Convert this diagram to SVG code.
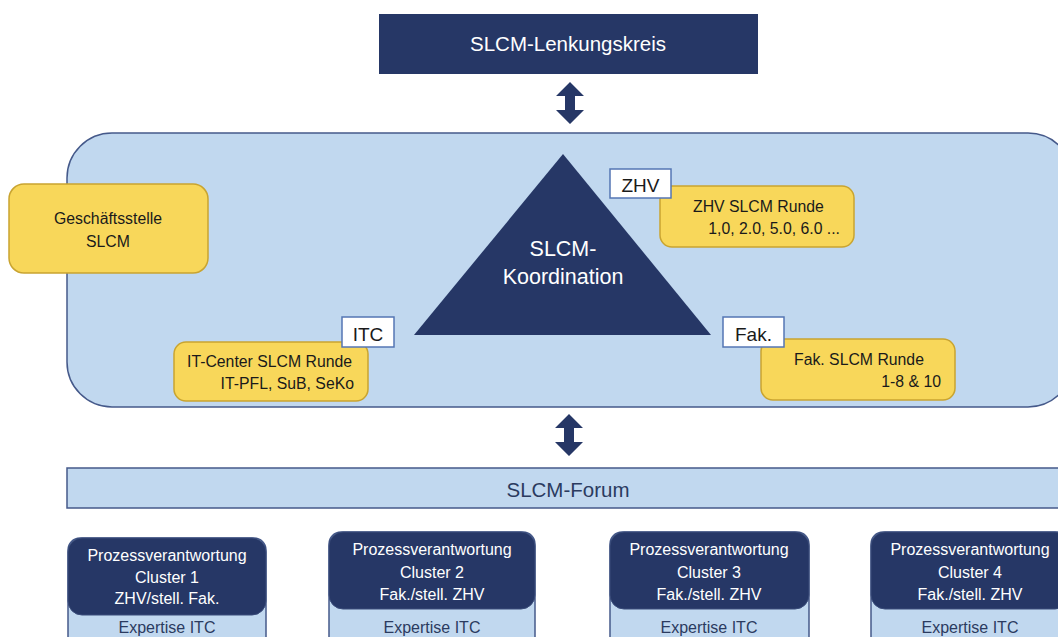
<svg xmlns="http://www.w3.org/2000/svg" width="1058" height="637" viewBox="0 0 1058 637">
  <style>
    text { font-family: "Liberation Sans", Arial, sans-serif; }
    .navy { fill: #263766; }
    .panel { fill: #c1d8ef; stroke: #45598a; stroke-width: 1.5; }
    .yellow { fill: #f8d75a; stroke: #c9a430; stroke-width: 1.5; }
    .tag { fill: #ffffff; stroke: #5476b4; stroke-width: 1.5; }
    .wt { fill: #ffffff; }
    .bk { fill: #1a1a1a; }
    .arrow { fill: #263766; }
    .dark { fill: #263766; stroke: #3a4c7a; stroke-width: 1; }
    .note { font-size: 15.8px; }
    .cl { font-size: 16px; text-anchor: middle; }
    .big { font-size: 20.5px; text-anchor: middle; }
    .tagt { font-size: 19px; text-anchor: middle; fill: #1a1a1a; }
    .exp { fill: #2b3b5f; }
  </style>

  <!-- steering committee -->
  <g id="lenkungskreis">
    <rect x="379" y="14" width="379" height="60" class="navy"/>
    <text x="568" y="51" class="big wt">SLCM-Lenkungskreis</text>
  </g>

  <!-- coordination panel -->
  <g id="koordination-panel">
    <rect x="67" y="133" width="1006" height="274" rx="45" ry="45" class="panel"/>
  </g>

  <g id="geschaeftsstelle">
    <rect x="9" y="184" width="199" height="89" rx="15" ry="15" class="yellow"/>
    <text x="108" y="224" text-anchor="middle" class="note bk">Geschäftsstelle</text>
    <text x="108" y="247" text-anchor="middle" class="note bk">SLCM</text>
  </g>

  <g id="slcm-koordination">
    <polygon points="563,154 711,335 414,335" class="navy"/>
    <text x="563" y="256" class="big wt" style="font-size:21.5px">SLCM-</text>
    <text x="563" y="284" class="big wt" style="font-size:21.5px">Koordination</text>
  </g>

  <g id="zhv-runde">
    <rect x="660" y="186" width="194" height="61" rx="12" ry="12" class="yellow"/>
    <text x="693" y="212" class="note bk">ZHV SLCM Runde</text>
    <text x="840" y="234" text-anchor="end" class="note bk">1,0, 2.0, 5.0, 6.0 ...</text>
  </g>
  <g id="zhv-tag">
    <rect x="610" y="169" width="61" height="29" class="tag"/>
    <text x="640.5" y="191.5" class="tagt">ZHV</text>
  </g>

  <g id="itc-runde">
    <rect x="174" y="342" width="194" height="59" rx="12" ry="12" class="yellow"/>
    <text x="187" y="367" class="note bk">IT-Center SLCM Runde</text>
    <text x="354" y="389" text-anchor="end" class="note bk">IT-PFL, SuB, SeKo</text>
  </g>
  <g id="itc-tag">
    <rect x="342" y="317" width="52" height="30" class="tag"/>
    <text x="368" y="340.5" class="tagt">ITC</text>
  </g>

  <g id="fak-runde">
    <rect x="761" y="339" width="194" height="61" rx="12" ry="12" class="yellow"/>
    <text x="794" y="365" class="note bk">Fak. SLCM Runde</text>
    <text x="941" y="387" text-anchor="end" class="note bk">1-8 &amp; 10</text>
  </g>
  <g id="fak-tag">
    <rect x="723" y="317" width="61" height="30" class="tag"/>
    <text x="753.5" y="340.5" class="tagt">Fak.</text>
  </g>

  <!-- forum bar -->
  <g id="slcm-forum">
    <rect x="67" y="468" width="1010" height="40" class="panel"/>
    <text x="568" y="497" class="big exp">SLCM-Forum</text>
  </g>

  <!-- process owner clusters -->
  <g id="cluster-1">
    <rect x="68" y="538" width="198" height="120" rx="12" ry="12" class="panel"/>
    <rect x="68" y="538" width="198" height="77" rx="14" ry="14" class="dark"/>
    <text x="167" y="561" class="cl wt">Prozessverantwortung</text>
    <text x="167" y="583" class="cl wt">Cluster 1</text>
    <text x="167" y="604" class="cl wt">ZHV/stell. Fak.</text>
    <text x="167" y="633" class="cl exp">Expertise ITC</text>
  </g>
  <g id="cluster-2">
    <rect x="329" y="532" width="206" height="126" rx="12" ry="12" class="panel"/>
    <rect x="329" y="532" width="206" height="77" rx="14" ry="14" class="dark"/>
    <text x="432" y="555" class="cl wt">Prozessverantwortung</text>
    <text x="432" y="578" class="cl wt">Cluster 2</text>
    <text x="432" y="600" class="cl wt">Fak./stell. ZHV</text>
    <text x="432" y="633" class="cl exp">Expertise ITC</text>
  </g>
  <g id="cluster-3">
    <rect x="610" y="532" width="199" height="126" rx="12" ry="12" class="panel"/>
    <rect x="610" y="532" width="199" height="77" rx="14" ry="14" class="dark"/>
    <text x="709" y="555" class="cl wt">Prozessverantwortung</text>
    <text x="709" y="578" class="cl wt">Cluster 3</text>
    <text x="709" y="600" class="cl wt">Fak./stell. ZHV</text>
    <text x="709" y="633" class="cl exp">Expertise ITC</text>
  </g>
  <g id="cluster-4">
    <rect x="871" y="532" width="198" height="126" rx="12" ry="12" class="panel"/>
    <rect x="871" y="532" width="198" height="77" rx="14" ry="14" class="dark"/>
    <text x="970" y="555" class="cl wt">Prozessverantwortung</text>
    <text x="970" y="578" class="cl wt">Cluster 4</text>
    <text x="970" y="600" class="cl wt">Fak./stell. ZHV</text>
    <text x="970" y="633" class="cl exp">Expertise ITC</text>
  </g>

  <!-- two-way block arrows between the levels -->
  <g id="connectors">
    <polygon class="arrow" points="570,82 584,96 575,96 575,110 584,110 570,124 556,110 565,110 565,96 556,96"/>
    <polygon class="arrow" points="569,414 583,428 574,428 574,442 583,442 569,456 555,442 564,442 564,428 555,428"/>
  </g>
</svg>
